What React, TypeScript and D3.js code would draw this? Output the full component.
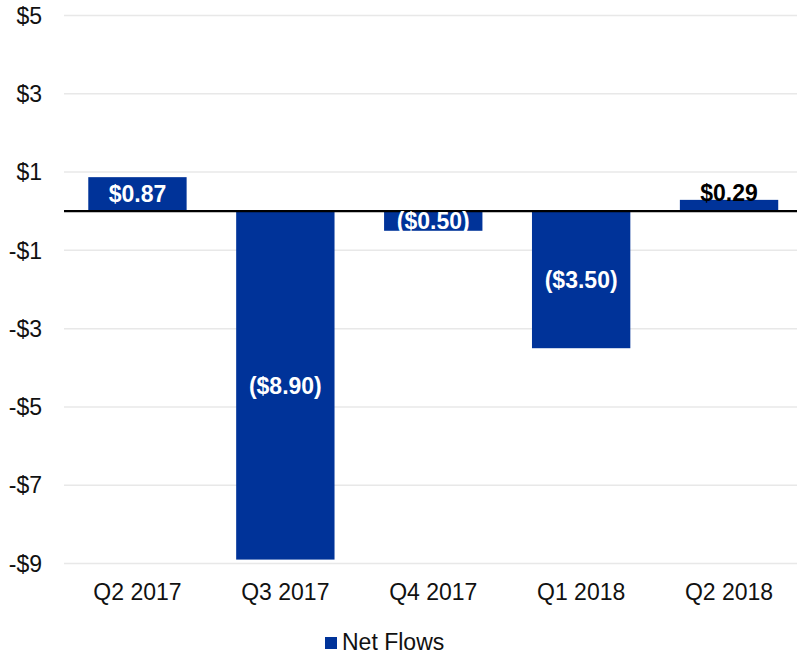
import React from "react";
import * as d3 from "d3";

const categories = ["Q2 2017", "Q3 2017", "Q4 2017", "Q1 2018", "Q2 2018"];
const netFlows = [0.87, -8.9, -0.5, -3.5, 0.29];
const labels = ["$0.87", "($8.90)", "($0.50)", "($3.50)", "$0.29"];
const yTicks = [5, 3, 1, -1, -3, -5, -7, -9];
const yTickLabels = ["$5", "$3", "$1", "-$1", "-$3", "-$5", "-$7", "-$9"];
const seriesName = "Net Flows";

const W = 797;
const H = 656;
const BAR = "#003399";
const FONT = "'Liberation Sans', Arial, sans-serif";

export default function App() {
  const y = d3.scaleLinear().domain([-9, 5]).range([563.5, 15.5]);
  const x = d3.scaleBand<string>().domain(categories).range([63.5, 803]).paddingInner(0.335).paddingOuter(0.1675);
  const y0 = y(0);

  return (
    <svg width={W} height={H} style={{ position: "absolute", left: 0, top: 0, background: "#fff" }} fontFamily={FONT}>
      <rect width={W} height={H} fill="#fff" />
      {yTicks.map((t, i) => (
        <g key={t}>
          {t !== 0 && <line x1={64} x2={797} y1={y(t)} y2={y(t)} stroke="#e8e8e8" strokeWidth={1.5} />}
          <text x={42} y={y(t)} dy="8.2" textAnchor="end" fontSize={23} fill="#111">{yTickLabels[i]}</text>
        </g>
      ))}
      {categories.map((c, i) => {
        const v = netFlows[i];
        const top = Math.min(y(v), y0);
        const h = Math.abs(y(v) - y0);
        return <rect key={c} x={x(c)} y={top} width={x.bandwidth()} height={h} fill={BAR} />;
      })}
      <line x1={64} x2={797} y1={y0} y2={y0} stroke="#000" strokeWidth={2.2} />
      {categories.map((c, i) => {
        const v = netFlows[i];
        const cx = (x(c) ?? 0) + x.bandwidth() / 2;
        const inside = Math.abs(v) >= 0.4;
        const ty = inside ? (y(v) + y0) / 2 + 8.2 : y(v) + 1;
        return (
          <text key={c} x={cx} y={ty} textAnchor="middle" fontSize={23} fontWeight="bold" fill={inside ? "#fff" : "#000"}>
            {labels[i]}
          </text>
        );
      })}
      {categories.map((c) => (
        <text key={c} x={(x(c) ?? 0) + x.bandwidth() / 2} y={600} textAnchor="middle" fontSize={23} fill="#111">{c}</text>
      ))}
      <rect x={325} y={637} width={12} height={12} fill={BAR} />
      <text x={342} y={650} fontSize={23} fill="#111">{seriesName}</text>
    </svg>
  );
}
